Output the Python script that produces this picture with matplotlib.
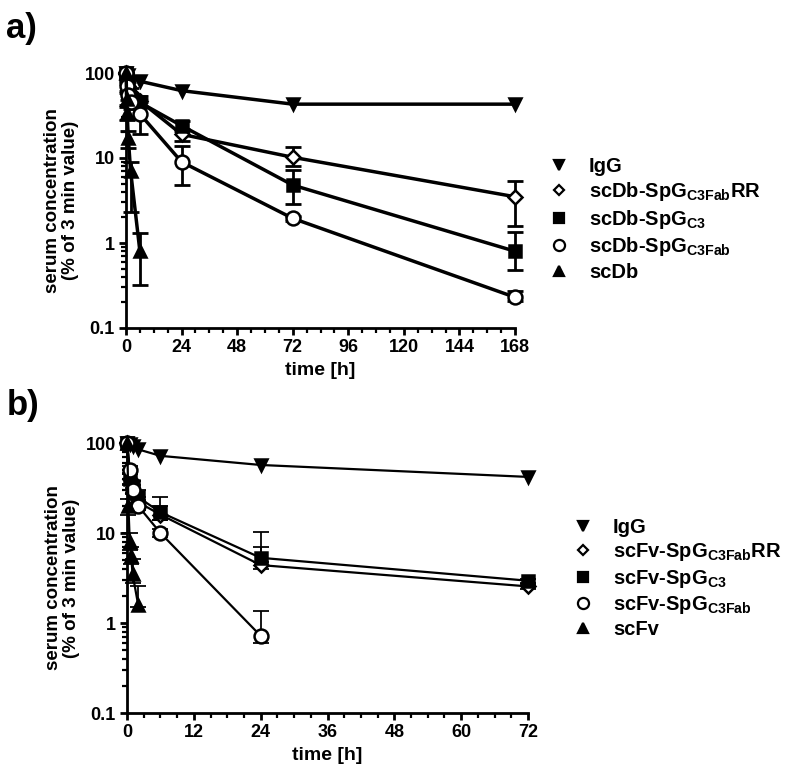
import numpy as np
import matplotlib
matplotlib.use("Agg")
import matplotlib.pyplot as plt
import matplotlib.lines as mlines
from matplotlib.ticker import FixedLocator, MultipleLocator, FuncFormatter

plt.rcParams['font.family'] = ['Liberation Sans', 'DejaVu Sans']
plt.rcParams['font.weight'] = 'bold'
plt.rcParams['mathtext.fontset'] = 'custom'
plt.rcParams['mathtext.rm'] = 'Liberation Sans:bold'
plt.rcParams['mathtext.bf'] = 'Liberation Sans:bold'

# ---- panel a data (scDb constructs) ----
a_igg_t = [0.05, 1, 6, 24, 72, 168]
a_igg_y = [100, 95, 80, 62, 43, 43]

a_rr_t = [0.05, 0.5, 1, 2, 6, 24, 72, 168]
a_rr_y = [100, 85, 70, 58, 47, 19, 10.2, 3.5]
a_rr_lo = [100, 80, 62, 50, 40, 16, 8.0, 1.6]
a_rr_hi = [100, 90, 78, 66, 54, 22, 13.5, 5.4]

a_c3_t = [0.05, 0.5, 1, 2, 6, 24, 72, 168]
a_c3_y = [100, 80, 62, 50, 45, 24, 4.8, 0.8]
a_c3_lo = [100, 75, 56, 45, 40, 21, 2.9, 0.48]
a_c3_hi = [100, 85, 68, 55, 50, 27, 7.2, 1.35]

a_fab_t = [0.05, 0.5, 1, 2, 6, 24, 72, 168]
a_fab_y = [100, 70, 55, 45, 33, 9, 1.95, 0.23]
a_fab_lo = [100, 62, 48, 38, 19, 4.8, 1.8, 0.21]
a_fab_hi = [100, 78, 62, 52, 45, 14, 2.1, 0.27]

a_db_t = [0.05, 0.25, 0.5, 1, 2, 6]
a_db_y = [100, 50, 34, 17, 7, 0.8]
a_db_lo = [100, 42, 28, 13, 2.3, 0.32]
a_db_hi = [100, 58, 40, 21, 9, 1.3]

# ---- panel b data (scFv constructs) ----
b_igg_t = [0.05, 0.5, 1, 2, 6, 24, 72]
b_igg_y = [100, 97, 92, 85, 72, 57, 42]

b_rr_t = [0.05, 0.5, 1, 2, 6, 24, 72]
b_rr_y = [100, 40, 28, 22, 16, 4.4, 2.55]
b_rr_lo = [100, 35, 24, 19, 14, 4.0, 2.4]
b_rr_hi = [100, 45, 32, 25, 20, 7.0, 2.7]

b_c3_t = [0.05, 0.5, 1, 2, 6, 24, 72]
b_c3_y = [100, 40, 33, 25, 17, 5.3, 2.95]
b_c3_lo = [100, 34, 28, 21, 14, 4.8, 2.8]
b_c3_hi = [100, 46, 38, 30, 25, 10.3, 3.1]

b_fab_t = [0.05, 0.5, 1, 2, 6, 24]
b_fab_y = [100, 50, 30, 20, 10, 0.72]
b_fab_lo = [100, 45, 27, 18, 9, 0.6]
b_fab_hi = [100, 55, 34, 23, 11, 1.35]

b_fv_t = [0.05, 0.25, 0.5, 0.75, 1, 2]
b_fv_y = [100, 20, 8, 5.5, 3.5, 1.6]
b_fv_lo = [100, 16, 6.5, 4.5, 2.8, 1.5]
b_fv_hi = [100, 24, 10, 7, 5.2, 2.6]

a_labels = ['IgG', r'scDb-SpG$_{\mathbf{C3Fab}}$RR', r'scDb-SpG$_{\mathbf{C3}}$',
            r'scDb-SpG$_{\mathbf{C3Fab}}$', 'scDb']
b_labels = ['IgG', r'scFv-SpG$_{\mathbf{C3Fab}}$RR', r'scFv-SpG$_{\mathbf{C3}}$',
            r'scFv-SpG$_{\mathbf{C3Fab}}$', 'scFv']
markers = ['v', 'D', 's', 'o', '^']
faces = ['black', 'white', 'black', 'white', 'black']
msizes = [9, 7, 9, 10, 9]


def series(ax, t, y, lo, hi, mk, fc, ms, lw):
    y = np.array(y, dtype=float)
    if lo is not None:
        err = [y - np.array(lo), np.array(hi) - y]
        ax.errorbar(t, y, yerr=err, fmt='none', ecolor='black', elinewidth=lw * 0.8,
                    capsize=6, capthick=lw * 0.8, clip_on=False, zorder=2)
    ax.plot(t, y, color='black', lw=lw, marker=mk, markerfacecolor=fc,
            markeredgecolor='black', markeredgewidth=1.8, markersize=ms,
            clip_on=False, zorder=3)


def style(ax, xmax, xmajor, xminor):
    ax.set_yscale('log')
    ax.set_ylim(0.1, 100)
    ax.set_xlim(0, xmax)
    ax.xaxis.set_major_locator(MultipleLocator(xmajor))
    ax.xaxis.set_minor_locator(MultipleLocator(xminor))
    ax.yaxis.set_major_locator(FixedLocator([0.1, 1, 10, 100]))
    ax.yaxis.set_major_formatter(FuncFormatter(lambda v, p: '%g' % v))
    minors = [m * 10.0 ** e for e in range(-1, 2) for m in range(2, 10)]
    ax.yaxis.set_minor_locator(FixedLocator(minors))
    ax.yaxis.set_minor_formatter(FuncFormatter(lambda v, p: ''))
    for s in ['top', 'right']:
        ax.spines[s].set_visible(False)
    for s in ['left', 'bottom']:
        ax.spines[s].set_linewidth(2.0)
    ax.tick_params(which='major', width=2.0, length=5, labelsize=13, pad=3)
    ax.tick_params(which='minor', width=1.6, length=3.5)
    ax.set_xlabel('time [h]', fontsize=14, fontweight='bold', labelpad=4)
    ax.set_ylabel('serum concentration\n(% of 3 min value)', fontsize=13.5,
                  fontweight='bold', labelpad=4, linespacing=1.1)


fig = plt.figure(figsize=(7.98, 7.81), dpi=100)
axa = fig.add_axes([126 / 798, 1 - 328 / 781, 389 / 798, 255 / 781])
axb = fig.add_axes([127 / 798, 1 - 713 / 781, 401 / 798, 270 / 781])

a_sets = [(a_igg_t, a_igg_y, None, None), (a_rr_t, a_rr_y, a_rr_lo, a_rr_hi),
          (a_c3_t, a_c3_y, a_c3_lo, a_c3_hi), (a_fab_t, a_fab_y, a_fab_lo, a_fab_hi),
          (a_db_t, a_db_y, a_db_lo, a_db_hi)]
b_sets = [(b_igg_t, b_igg_y, None, None), (b_rr_t, b_rr_y, b_rr_lo, b_rr_hi),
          (b_c3_t, b_c3_y, b_c3_lo, b_c3_hi), (b_fab_t, b_fab_y, b_fab_lo, b_fab_hi),
          (b_fv_t, b_fv_y, b_fv_lo, b_fv_hi)]

for (t, y, lo, hi), mk, fc, ms in zip(a_sets, markers, faces, msizes):
    series(axa, t, y, lo, hi, mk, fc, ms, 2.5)
for (t, y, lo, hi), mk, fc, ms in zip(b_sets, markers, faces, msizes):
    series(axb, t, y, lo, hi, mk, fc, ms, 1.6)

style(axa, 168, 24, 6)
style(axb, 72, 12, 3)


def legend(ax, labels, x, y):
    handles = []
    for lab, mk, fc, ms in zip(labels, markers, faces, msizes):
        handles.append(mlines.Line2D([], [], color='black', linestyle='none', marker=mk,
                                     markerfacecolor=fc, markeredgewidth=1.6,
                                     markersize=ms - 2, label=lab))
    ax.legend(handles=handles, loc='upper left', bbox_to_anchor=(x, y),
              bbox_transform=fig.transFigure, frameon=False,
              handlelength=1.0, handletextpad=1.0, labelspacing=0.22,
              borderpad=0, prop={'weight': 'bold', 'size': 14.5})


legend(axa, a_labels, 0.675, 0.812)
legend(axb, b_labels, 0.705, 0.350)

fig.text(0.008, 0.963, 'a)', fontsize=25, fontweight='bold', va='center')
fig.text(0.008, 0.481, 'b)', fontsize=25, fontweight='bold', va='center')

fig.savefig('out.png', dpi=100)
